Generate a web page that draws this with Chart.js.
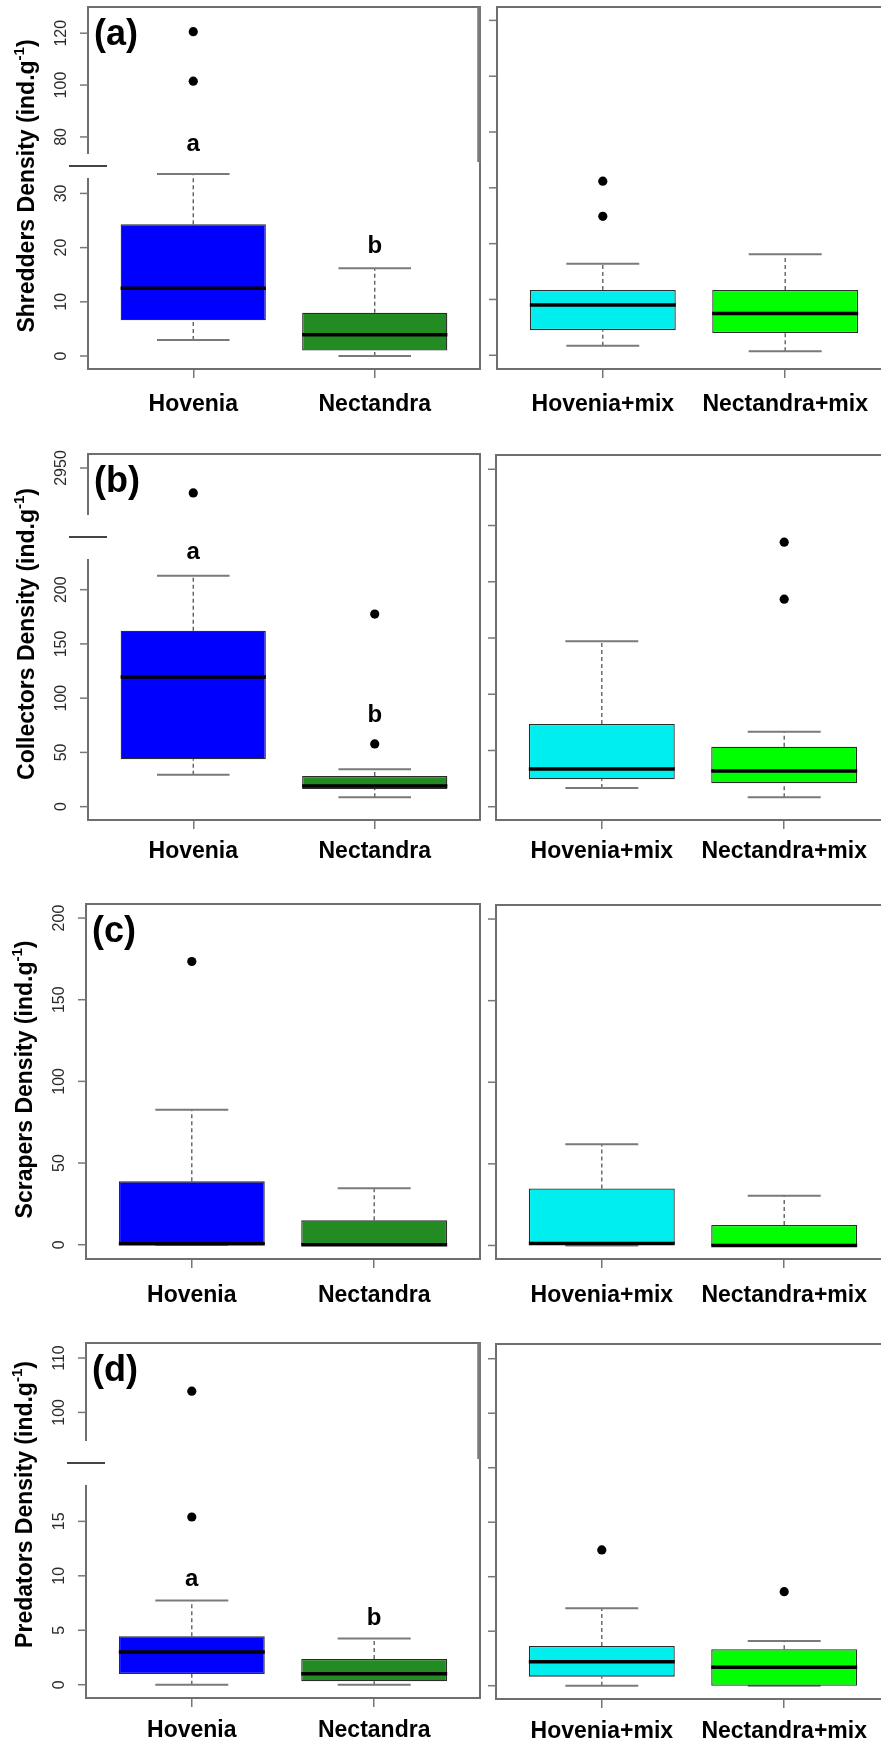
<!DOCTYPE html>
<html>
<head>
<meta charset="utf-8">
<title>Invertebrate feeding group densities</title>
<script src="https://cdn.jsdelivr.net/npm/chart.js@4.4.1/dist/chart.umd.min.js"></script>
<style>
  html, body { margin: 0; padding: 0; overflow: hidden; background: #fff; }
  body { position: relative; width: 881px; height: 1744px; }
  canvas { position: absolute; }
</style>
</head>
<body>
<script>
// group names on the x axes
const leafGroups = ['Hovenia', 'Nectandra'];
const mixGroups = ['Hovenia+mix', 'Nectandra+mix'];

// box statistics per group: [lower whisker, Q1, median, Q3, upper whisker]
const shreddersLeaf = [[2.95, 6.6, 12.5, 24.3, 33.6], [0, 1.0, 3.9, 8.0, 16.2]];
const shreddersMix = [[1.7, 4.5, 9.0, 11.7, 16.4], [0.7, 4.0, 7.5, 11.7, 18.1]];
const collectorsLeaf = [[29.5, 43.7, 119.6, 162.1, 212.8], [8.6, 16.3, 19.1, 28.3, 34.5]];
const collectorsMix = [[16.6, 24.4, 33.5, 73.6, 147.2], [8.4, 20.8, 31.8, 53.4, 66.7]];
const scrapersLeaf = [[0, 0, 0.6, 38.8, 82.6], [0, 0, 0, 14.9, 34.5]];
const scrapersMix = [[0, 0.9, 1.2, 34.9, 62.0], [0, 0, 0, 12.5, 30.5]];
const predatorsLeaf = [[0, 0.98, 3.0, 4.44, 7.74], [0, 0.31, 1.0, 2.36, 4.25]];
const predatorsMix = [[0, 0.83, 2.2, 3.65, 7.1], [0, 0, 1.69, 3.34, 4.1]];

// outlying samples per group
const shreddersLeafOut = [[101.5, 120.6], []];
const shreddersMixOut = [[24.9, 31.2], []];
const collectorsLeafOut = [[2927], [57.8, 177.5]];
const collectorsMixOut = [[], [184.5, 235.2]];
const scrapersLeafOut = [[173.4], []];
const scrapersMixOut = [[], []];
const predatorsLeafOut = [[15.4, 103.9], []];
const predatorsMixOut = [[12.46], [8.63]];

// significance letters, Hovenia vs Nectandra
const shreddersLetters = ['a', 'b'];
const collectorsLetters = ['a', 'b'];
const predatorsLetters = ['a', 'b'];

// tick values (lower and upper part of the broken axes, mixture panels)
const shreddersTicks = [0, 10, 20, 30];
const shreddersTicksTop = [80, 100, 120];
const shreddersTicksMix = [0, 10, 20, 30, 40, 50, 60];
const collectorsTicks = [0, 50, 100, 150, 200];
const collectorsTicksTop = [2950];
const collectorsTicksMix = [0, 50, 100, 150, 200, 250, 300];
const scrapersTicks = [0, 50, 100, 150, 200];
const scrapersTicksMix = [0, 50, 100, 150, 200];
const predatorsTicks = [0, 5, 10, 15];
const predatorsTicksTop = [100, 110];
const predatorsTicksMix = [0, 5, 10, 15, 20, 25, 30];

const leafColors = ['#0000ff', '#228b22'];
const mixColors = ['#00eeee', '#00ff00'];

const FONT = '"Liberation Sans", Arial, Helvetica, sans-serif';
const GREY = '#6e6e6e';

const panels = [
  // (a) shredders
  { frame: { l: 88, t: 7, r: 480, b: 369 }, side: 'left', stats: shreddersLeaf, out: shreddersLeafOut,
    groups: leafGroups, colors: leafColors, low: [-2.4, 35.06], high: [68.8, 130.1], weights: [203, 159],
    ticks: shreddersTicks, ticksTop: shreddersTicksTop, letters: shreddersLetters, letterAt: [39.1, 20.2],
    tag: '(a)', title: 'Shredders Density', titleShift: -2, gap: 12, labelPad: 13, thickRight: true },
  { frame: { l: 497, t: 7, b: 369 }, side: 'right', stats: shreddersMix, out: shreddersMixOut,
    groups: mixGroups, colors: mixColors, low: [-2.46, 62.4], ticks: shreddersTicksMix, labelPad: 13 },
  // (b) collectors
  { frame: { l: 88, t: 454, r: 480, b: 820 }, side: 'left', stats: collectorsLeaf, out: collectorsLeafOut,
    groups: leafGroups, colors: leafColors, low: [-12.3, 248.5], high: [2886.3, 2962.9], weights: [282.7, 83],
    ticks: collectorsTicks, ticksTop: collectorsTicksTop, letters: collectorsLetters, letterAt: [234.7, 83.9],
    tag: '(b)', title: 'Collectors Density', titleShift: -3, gap: 22, labelPad: 9 },
  { frame: { l: 496, t: 455, b: 820 }, side: 'right', stats: collectorsMix, out: collectorsMixOut,
    groups: mixGroups, colors: mixColors, low: [-11.8, 312.7], ticks: collectorsTicksMix, labelPad: 9 },
  // (c) scrapers
  { frame: { l: 86, t: 904, r: 480, b: 1259 }, side: 'left', stats: scrapersLeaf, out: scrapersLeafOut,
    groups: leafGroups, colors: leafColors, low: [-8.75, 208.6], ticks: scrapersTicks,
    tag: '(c)', title: 'Scrapers Density', titleShift: -2, labelPad: 14 },
  { frame: { l: 496, t: 905, b: 1259 }, side: 'right', stats: scrapersMix, out: scrapersMixOut,
    groups: mixGroups, colors: mixColors, low: [-8.3, 208.6], ticks: scrapersTicksMix, labelPad: 14 },
  // (d) predators
  { frame: { l: 86, t: 1343, r: 480, b: 1698 }, side: 'left', stats: predatorsLeaf, out: predatorsLeafOut,
    groups: leafGroups, colors: leafColors, low: [-1.22, 20.36], high: [90.7, 112.76], weights: [235, 120],
    ticks: predatorsTicks, ticksTop: predatorsTicksTop, letters: predatorsLetters, letterAt: [9.7, 6.1],
    tag: '(d)', title: 'Predators Density', titleShift: -16, gap: 22, labelPad: 10, thickRight: true },
  { frame: { l: 496, t: 1344, b: 1699 }, side: 'right', stats: predatorsMix, out: predatorsMixOut,
    groups: mixGroups, colors: mixColors, low: [-1.22, 31.35], ticks: predatorsTicksMix, labelPad: 10 }
];

// rotated y title with the g^-1 superscript
function drawTitle(ctx, x, y, main) {
  const parts = [
    [main + ' (ind.g', 'bold 23px ' + FONT, 0],
    ['-1', 'bold 15px ' + FONT, -8],
    [')', 'bold 23px ' + FONT, 0]
  ];
  ctx.save();
  ctx.translate(x, y);
  ctx.rotate(-Math.PI / 2);
  ctx.textBaseline = 'middle';
  ctx.textAlign = 'left';
  ctx.fillStyle = '#000';
  let total = 0;
  parts.forEach(pt => { ctx.font = pt[1]; pt.push(ctx.measureText(pt[0]).width); total += pt[3]; });
  let cx = -total / 2;
  parts.forEach(pt => { ctx.font = pt[1]; ctx.fillText(pt[0], cx, pt[2]); cx += pt[3]; });
  ctx.restore();
}

function boxPlugin(p) {
  return {
    id: 'boxes',
    beforeDatasetsDraw(chart) {
      const ctx = chart.ctx, x = chart.scales.x, y = chart.scales.yLow;
      const half = x.getPixelForValue(1.2) - x.getPixelForValue(1);
      ctx.save();
      p.stats.forEach((s, i) => {
        const cx = x.getPixelForValue(i + 1);
        // dashed whiskers
        ctx.setLineDash([4, 3]);
        ctx.strokeStyle = '#555';
        ctx.lineWidth = 1.3;
        ctx.beginPath();
        ctx.moveTo(cx, y.getPixelForValue(s[0]));
        ctx.lineTo(cx, y.getPixelForValue(s[1]));
        ctx.moveTo(cx, y.getPixelForValue(s[3]));
        ctx.lineTo(cx, y.getPixelForValue(s[4]));
        ctx.stroke();
        // whisker ends
        ctx.setLineDash([]);
        ctx.strokeStyle = '#7a7a7a';
        ctx.lineWidth = 2;
        ctx.beginPath();
        [s[0], s[4]].forEach(v => {
          const py = y.getPixelForValue(v);
          ctx.moveTo(cx - half, py);
          ctx.lineTo(cx + half, py);
        });
        ctx.stroke();
      });
      ctx.restore();
    },
    afterDatasetsDraw(chart) {
      const ctx = chart.ctx, area = chart.chartArea;
      const x = chart.scales.x, low = chart.scales.yLow, high = chart.scales.yHigh;
      const half = x.getPixelForValue(1.4) - x.getPixelForValue(1);
      ctx.save();

      // medians
      ctx.strokeStyle = '#000';
      ctx.lineWidth = 3.5;
      p.stats.forEach((s, i) => {
        const cx = x.getPixelForValue(i + 1), py = low.getPixelForValue(s[2]);
        ctx.beginPath();
        ctx.moveTo(cx - half, py);
        ctx.lineTo(cx + half, py);
        ctx.stroke();
      });

      // top and right sides of the frame
      ctx.strokeStyle = GREY;
      ctx.lineWidth = 2;
      ctx.beginPath();
      ctx.moveTo(area.left - 1, area.top);
      ctx.lineTo(area.right, area.top);
      ctx.lineTo(area.right, area.bottom + 1);
      ctx.stroke();
      if (p.thickRight) {
        ctx.lineWidth = 3.5;
        ctx.strokeStyle = '#7a7a7a';
        ctx.beginPath();
        ctx.moveTo(area.right - 1, area.top);
        ctx.lineTo(area.right - 1, high.bottom - 4);
        ctx.stroke();
      }

      // y axis, split when the scale is broken
      ctx.strokeStyle = GREY;
      ctx.lineWidth = 2;
      const segs = high
        ? [[area.top, high.bottom - p.gap], [low.top + p.gap, area.bottom]]
        : [[area.top, area.bottom]];
      ctx.beginPath();
      segs.forEach(sg => { ctx.moveTo(area.left, sg[0]); ctx.lineTo(area.left, sg[1]); });
      ctx.stroke();
      if (high) {
        ctx.strokeStyle = '#444';
        ctx.beginPath();
        ctx.moveTo(area.left - 19, low.top);
        ctx.lineTo(area.left + 19, low.top);
        ctx.stroke();
      }

      // tick marks and rotated tick labels
      [high, low].filter(Boolean).forEach(sc => {
        sc.ticks.forEach(t => {
          const py = sc.getPixelForValue(t.value);
          ctx.strokeStyle = '#777';
          ctx.lineWidth = 1.5;
          ctx.beginPath();
          ctx.moveTo(area.left - 8, py);
          ctx.lineTo(area.left, py);
          ctx.stroke();
          if (p.side === 'left') {
            ctx.save();
            ctx.translate(area.left - 26, py);
            ctx.rotate(-Math.PI / 2);
            ctx.font = '16px ' + FONT;
            ctx.fillStyle = '#2a2a2a';
            ctx.textAlign = 'center';
            ctx.textBaseline = 'middle';
            ctx.fillText(String(t.value), 0, 0);
            ctx.restore();
          }
        });
      });

      // letters above the leaf-only boxes
      if (p.letters) {
        ctx.font = 'bold 24px ' + FONT;
        ctx.fillStyle = '#000';
        ctx.textAlign = 'center';
        ctx.textBaseline = 'middle';
        p.letters.forEach((l, i) => {
          ctx.fillText(l, x.getPixelForValue(i + 1), low.getPixelForValue(p.letterAt[i]));
        });
      }

      if (p.tag) {
        ctx.font = 'bold 36px ' + FONT;
        ctx.fillStyle = '#000';
        ctx.textAlign = 'left';
        ctx.textBaseline = 'middle';
        ctx.fillText(p.tag, area.left + 6, area.top + 28);
      }
      if (p.title) {
        drawTitle(ctx, area.left - 60, (area.top + area.bottom) / 2 + p.titleShift, p.title);
      }
      ctx.restore();
    }
  };
}

function makePanel(p) {
  const f = p.frame;
  const right = p.side === 'left' ? f.r : f.l + 394;
  const cx = p.side === 'left' ? 0 : 440;
  const cw = p.side === 'left' ? 490 : 470;
  const cy = f.t - 7;
  const ch = f.b - f.t + 67;

  const cv = document.createElement('canvas');
  cv.width = cw;
  cv.height = ch;
  cv.style.left = cx + 'px';
  cv.style.top = cy + 'px';
  cv.style.width = cw + 'px';
  cv.style.height = ch + 'px';
  document.body.appendChild(cv);

  const broken = !!p.high;
  const outLow = [], outHigh = [];
  p.out.forEach((vals, i) => vals.forEach(v => {
    (broken && v > p.low[1] ? outHigh : outLow).push({ x: i + 1, y: v });
  }));

  const point = { pointRadius: 4.6, pointHoverRadius: 4.6, backgroundColor: '#000', borderWidth: 0 };
  const datasets = [
    {
      type: 'bar',
      data: p.stats.map((s, i) => ({ x: i + 1, y: [s[1], s[3]] })),
      backgroundColor: p.colors,
      borderColor: '#2b2b2b',
      borderWidth: 1.3,
      borderSkipped: false,
      barPercentage: 1,
      categoryPercentage: 0.8,
      yAxisID: 'yLow',
      order: 2
    },
    Object.assign({ type: 'scatter', data: outLow, yAxisID: 'yLow', order: 1 }, point)
  ];
  if (broken) {
    datasets.push(Object.assign({ type: 'scatter', data: outHigh, yAxisID: 'yHigh', order: 1 }, point));
  }

  const scales = {
    x: {
      type: 'linear',
      min: 0.42,
      max: 2.58,
      offset: false,
      afterBuildTicks: s => { s.ticks = [{ value: 1 }, { value: 2 }]; },
      afterFit: s => { s.height = 60; },
      grid: { offset: false, drawOnChartArea: false, drawTicks: true, tickLength: 9, color: '#777', lineWidth: 1.5 },
      border: { display: true, color: GREY, width: 2 },
      ticks: {
        callback: v => p.groups[v - 1],
        font: { family: FONT, weight: 'bold', size: 23 },
        color: '#000',
        padding: p.labelPad,
        maxRotation: 0,
        autoSkip: false
      }
    },
    yLow: {
      type: 'linear',
      position: 'left',
      display: false,
      min: p.low[0],
      max: p.low[1],
      afterBuildTicks: s => { s.ticks = p.ticks.map(v => ({ value: v })); }
    }
  };
  if (broken) {
    scales.yLow.stack = 'y';
    scales.yLow.stackWeight = p.weights[0];
    scales.yHigh = {
      type: 'linear',
      position: 'left',
      display: false,
      min: p.high[0],
      max: p.high[1],
      stack: 'y',
      stackWeight: p.weights[1],
      afterBuildTicks: s => { s.ticks = p.ticksTop.map(v => ({ value: v })); }
    };
  }

  new Chart(cv, {
    type: 'bar',
    data: { datasets },
    options: {
      responsive: false,
      animation: false,
      devicePixelRatio: 1,
      layout: { padding: { left: f.l - cx, right: cx + cw - right, top: 7, bottom: 0 } },
      plugins: { legend: { display: false }, tooltip: { enabled: false } },
      scales
    },
    plugins: [boxPlugin(p)]
  });
}

panels.forEach(makePanel);
</script>
</body>
</html>
